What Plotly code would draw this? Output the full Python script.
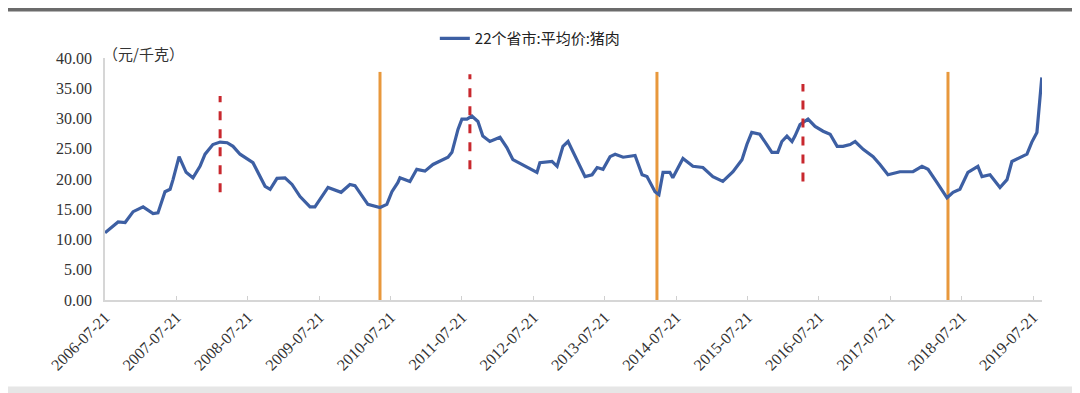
import plotly.graph_objects as go

# ---- data ----
dates = [
    "2006-07-21", "2006-09-26", "2006-11-01", "2006-12-12", "2007-02-01", "2007-03-24",
    "2007-04-18", "2007-05-24", "2007-06-19", "2007-07-04", "2007-08-04", "2007-09-09",
    "2007-10-14", "2007-11-19", "2007-12-15", "2008-01-24", "2008-03-01", "2008-04-06",
    "2008-05-06", "2008-06-11", "2008-08-16", "2008-10-17", "2008-11-12", "2008-12-17",
    "2009-01-27", "2009-03-04", "2009-04-14", "2009-06-04", "2009-06-29", "2009-09-04",
    "2009-11-10", "2009-12-25", "2010-01-20", "2010-03-27", "2010-05-28", "2010-07-02",
    "2010-07-28", "2010-08-27", "2010-09-07", "2010-10-28", "2010-12-02", "2011-01-13",
    "2011-02-23", "2011-05-11", "2011-05-31", "2011-07-01", "2011-07-21", "2011-08-16",
    "2011-09-10", "2011-10-11", "2011-11-05", "2011-12-11", "2012-02-01", "2012-03-07",
    "2012-04-07", "2012-06-08", "2012-08-08", "2012-08-23", "2012-10-24", "2012-11-19",
    "2012-12-19", "2013-01-14", "2013-03-01", "2013-04-11", "2013-05-17", "2013-06-12",
    "2013-07-12", "2013-08-17", "2013-09-12", "2013-10-23", "2013-12-23", "2014-01-28",
    "2014-02-22", "2014-04-04", "2014-04-24", "2014-05-15", "2014-06-19", "2014-07-04",
    "2014-08-25", "2014-10-15", "2014-12-05", "2015-01-25", "2015-03-17", "2015-05-08",
    "2015-06-23", "2015-07-18", "2015-08-12", "2015-09-22", "2015-10-28", "2015-11-23",
    "2015-12-23", "2016-01-13", "2016-02-08", "2016-03-05", "2016-03-20", "2016-04-15",
    "2016-05-26", "2016-07-01", "2016-08-11", "2016-09-16", "2016-10-22", "2016-11-21",
    "2016-12-27", "2017-01-22", "2017-03-04", "2017-04-24", "2017-05-29", "2017-07-09",
    "2017-09-08", "2017-11-14", "2017-12-30", "2018-01-30", "2018-03-17", "2018-05-07",
    "2018-06-07", "2018-07-12", "2018-08-22", "2018-10-12", "2018-11-02", "2018-12-13",
    "2019-02-02", "2019-03-10", "2019-04-04", "2019-05-15", "2019-06-20", "2019-07-15",
    "2019-08-10", "2019-09-04",
]
price = [
    11.1, 12.9, 12.8, 14.6, 15.4, 14.3,
    14.4, 17.9, 18.3, 19.9, 23.7, 21.1,
    20.2, 22.1, 24.1, 25.7, 26.1, 26.0,
    25.4, 24.1, 22.7, 18.8, 18.3, 20.1,
    20.2, 19.1, 17.1, 15.4, 15.4, 18.6,
    17.8, 19.1, 18.9, 15.8, 15.3, 15.8,
    17.9, 19.4, 20.2, 19.6, 21.6, 21.3,
    22.4, 23.6, 24.4, 28.2, 29.9, 29.9,
    30.4, 29.5, 27.1, 26.2, 26.9, 25.2,
    23.2, 22.1, 21.1, 22.7, 22.9, 22.1,
    25.4, 26.2, 23.2, 20.4, 20.7, 21.9,
    21.6, 23.7, 24.1, 23.6, 23.9, 20.7,
    20.4, 17.9, 17.4, 21.1, 21.1, 20.2,
    23.4, 22.1, 21.9, 20.4, 19.6, 21.2,
    23.2, 25.7, 27.7, 27.4, 25.7, 24.4,
    24.4, 26.2, 27.1, 26.2, 27.1, 29.0,
    29.9, 28.7, 27.9, 27.4, 25.4, 25.4,
    25.7, 26.2, 24.9, 23.7, 22.4, 20.7,
    21.2, 21.2, 22.1, 21.6, 19.4, 16.9,
    17.8, 18.3, 21.1, 22.1, 20.4, 20.7,
    18.6, 19.9, 22.9, 23.6, 24.1, 26.1,
    27.7, 36.8,
]
series_name = "22个省市:平均价:猪肉"

tick_dates = ["%d-07-21" % y for y in range(2006, 2020)]
y_ticks = [0, 5, 10, 15, 20, 25, 30, 35, 40]
y_tick_text = ["%.2f" % v for v in y_ticks]

# trough markers (solid orange) and peak markers (dashed red)
trough_dates = ["2010-05-28", "2014-04-14", "2018-05-12"]
trough_top = [37.7, 37.7, 37.7]
peak_dates = ["2008-03-01", "2011-08-31", "2016-04-30"]
peak_low = [17.8, 21.6, 19.6]
peak_high = [33.7, 37.3, 35.7]

fig = go.Figure()
fig.add_trace(go.Scatter(
    x=dates, y=price, mode="lines", name=series_name,
    line=dict(color="#3d5fa3", width=3.2),
))

shapes = []
for d, top in zip(trough_dates, trough_top):
    shapes.append(dict(type="line", xref="x", yref="y", x0=d, x1=d, y0=0, y1=top,
                       line=dict(color="#e8983c", width=3), layer="below"))
for d, lo, hi in zip(peak_dates, peak_low, peak_high):
    shapes.append(dict(type="line", xref="x", yref="y", x0=d, x1=d, y0=lo, y1=hi,
                       line=dict(color="#c8282e", width=3, dash="dash"), layer="above"))

# decorative frame bands (top / bottom of the picture)
shapes.append(dict(type="rect", xref="paper", yref="paper", x0=-0.2, x1=1.1,
                   y0=1.192, y1=1.25, fillcolor="#6b6b6b", line=dict(width=0), layer="below"))
shapes.append(dict(type="rect", xref="paper", yref="paper", x0=-0.2, x1=1.1,
                   y0=-0.45, y1=-0.357, fillcolor="#e6e6e6", line=dict(width=0), layer="below"))

fig.update_layout(
    width=1072, height=385,
    margin=dict(l=97, r=38, t=50, b=93, autoexpand=False),
    paper_bgcolor="white", plot_bgcolor="white",
    showlegend=True,
    legend=dict(orientation="h", x=0.352, xanchor="left", y=1.08, yanchor="middle",
                font=dict(family="Noto Sans CJK SC", size=15, color="#222"),
                bgcolor="rgba(0,0,0,0)"),
    shapes=shapes,
    annotations=[dict(text="（元/千克）", xref="paper", yref="paper", x=-0.004, y=1.017,
                      xanchor="left", yanchor="middle", showarrow=False,
                      font=dict(family="Noto Sans CJK SC", size=15, color="#333"))],
    xaxis=dict(
        type="date", range=["2006-07-21", "2019-09-05"], automargin=False,
        tickmode="array", tickvals=tick_dates, ticktext=tick_dates,
        tickangle=-45, ticks="inside", ticklen=4, tickcolor="#d0d0d0",
        showgrid=False, zeroline=False, showline=True, linecolor="#d6d6d6", linewidth=1.5,
        tickfont=dict(family="Liberation Serif", size=16, color="#333"),
    ),
    yaxis=dict(
        range=[0, 40], tickmode="array", tickvals=y_ticks, ticktext=y_tick_text,
        automargin=False, ticklabelstandoff=8,
        showgrid=False, zeroline=False, showline=True, linecolor="#d6d6d6", linewidth=1.5,
        ticks="",
        tickfont=dict(family="Liberation Serif", size=16, color="#333"),
    ),
)

fig.write_html("out.html")
